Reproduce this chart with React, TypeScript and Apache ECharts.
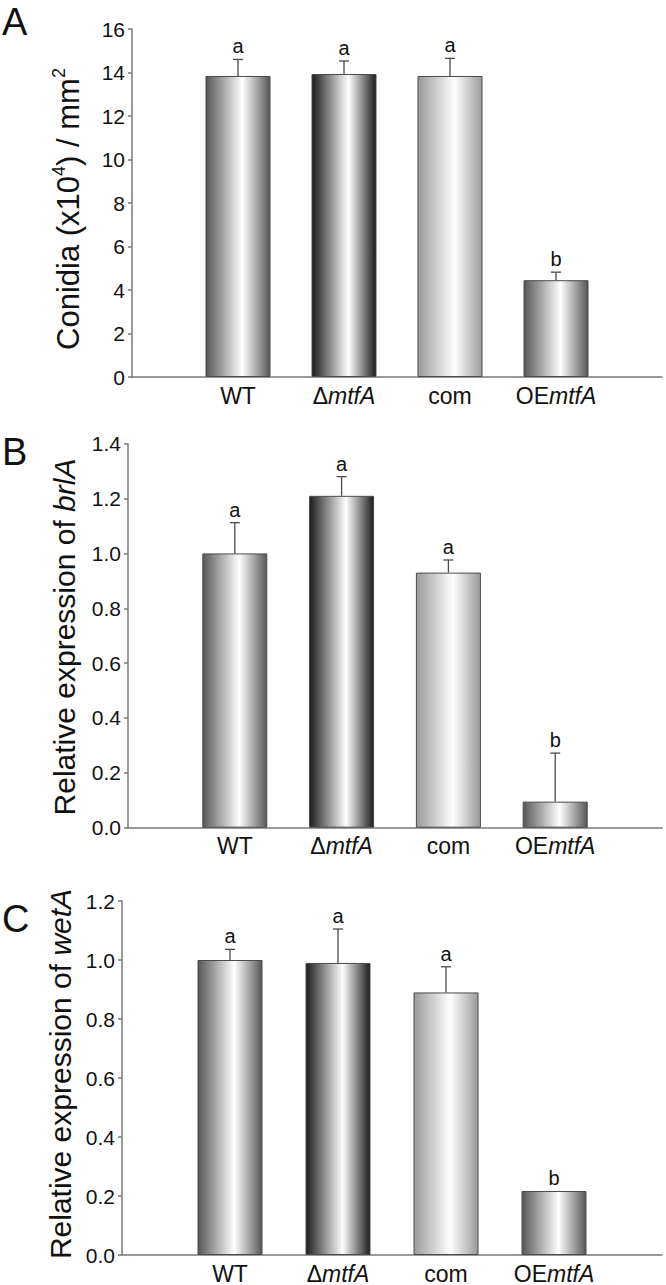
import React, { useEffect, useRef } from "react";
import * as echarts from "echarts";

const FONT = "'Liberation Sans', Arial, Helvetica, sans-serif";

// Data
const categories = ["WT", "ΔmtfA", "com", "OEmtfA"];
const categoryLabels = ["{n|WT}", "{n|Δ}{i|mtfA}", "{n|com}", "{n|OE}{i|mtfA}"];
const xPositions = [1, 2, 3, 4];

const conidiaMean = [13.84, 13.93, 13.84, 4.45];
const conidiaErr = [0.76, 0.6, 0.81, 0.37];
const conidiaLetters = ["a", "a", "a", "b"];

const brlAMean = [1.0, 1.21, 0.93, 0.095];
const brlAErr = [0.112, 0.07, 0.046, 0.177];
const brlALetters = ["a", "a", "a", "b"];

const wetAMean = [1.0, 0.99, 0.89, 0.217];
const wetAErr = [0.036, 0.115, 0.087, 0];
const wetALetters = ["a", "a", "a", "b"];

const yMax = [16, 1.4, 1.2];
const yInterval = [2, 0.2, 0.2];
const yDecimals = [0, 1, 1];

const barEdge = ["#575757", "#1c1c1c", "#9a9a9a", "#575757"];

function makeGrad(edge: string) {
  return new echarts.graphic.LinearGradient(0, 0, 1, 0, [
    { offset: 0, color: edge },
    { offset: 0.57, color: "#ffffff" },
    { offset: 1, color: edge },
  ]);
}

const grids = [
  { left: 132, right: 4, top: 29, bottom: 908 },
  { left: 128, right: 4, top: 443.7, bottom: 457.3 },
  { left: 122, right: 4, top: 901, bottom: 29 },
];

const panels = [
  { mean: conidiaMean, err: conidiaErr, letters: conidiaLetters },
  { mean: brlAMean, err: brlAErr, letters: brlALetters },
  { mean: wetAMean, err: wetAErr, letters: wetALetters },
];

export default function App() {
  const ref = useRef<HTMLDivElement>(null);
  useEffect(() => {
    if (!ref.current) return;
    const chart = echarts.init(ref.current, null, { renderer: "svg" });
    const axisColor = "#7a7a7a";

    const xAxis = grids.map((_, i) => ({
      type: "value",
      gridIndex: i,
      min: 0,
      max: 5,
      interval: 1,
      axisLine: { show: true, onZero: false, lineStyle: { color: axisColor, width: 1.5 } },
      axisTick: { show: false },
      splitLine: { show: false },
      axisLabel: {
        margin: 7,
        formatter: (v: number) => (v >= 1 && v <= 4 ? categoryLabels[v - 1] : ""),
        rich: {
          n: { fontSize: 23, fontFamily: FONT, color: "#111" },
          i: { fontSize: 23, fontFamily: FONT, color: "#111", fontStyle: "italic" },
        },
      },
    }));

    const yAxis = grids.map((_, i) => ({
      type: "value",
      gridIndex: i,
      min: 0,
      max: yMax[i],
      interval: yInterval[i],
      axisLine: { show: true, lineStyle: { color: axisColor, width: 1.5 } },
      axisTick: { show: true, inside: false, length: 4, lineStyle: { color: axisColor, width: 1.5 } },
      splitLine: { show: false },
      axisLabel: {
        margin: 7,
        fontSize: 21,
        fontFamily: FONT,
        color: "#111",
        formatter: (v: number) => v.toFixed(yDecimals[i]),
      },
    }));

    const series: any[] = [];
    panels.forEach((p, i) => {
      series.push({
        type: "bar",
        xAxisIndex: i,
        yAxisIndex: i,
        barWidth: 65,
        silent: true,
        data: xPositions.map((x, j) => ({
          name: categories[j],
          value: [x, p.mean[j]],
          itemStyle: { color: makeGrad(barEdge[j]), borderColor: "#4a4a4a", borderWidth: 1 },
        })),
      });
      series.push({
        type: "custom",
        xAxisIndex: i,
        yAxisIndex: i,
        clip: false,
        silent: true,
        z: 5,
        data: xPositions.map((x, j) => [x, p.mean[j], p.mean[j] + p.err[j]]),
        renderItem: (params: any, api: any) => {
          const x = api.value(0);
          const m = api.value(1);
          const t = api.value(2);
          const pb = api.coord([x, m]);
          const pt = api.coord([x, t]);
          const children: any[] = [];
          if (t > m) {
            const ls = { stroke: "#4a4a4a", lineWidth: 1.3 };
            children.push({ type: "line", shape: { x1: pb[0], y1: pb[1], x2: pt[0], y2: pt[1] }, style: ls });
            children.push({ type: "line", shape: { x1: pt[0] - 5, y1: pt[1], x2: pt[0] + 5, y2: pt[1] }, style: ls });
          }
          children.push({
            type: "text",
            x: pt[0],
            y: pt[1] - 3,
            style: {
              text: p.letters[params.dataIndex],
              fontSize: 20,
              fontFamily: FONT,
              fill: "#111",
              align: "center",
              verticalAlign: "bottom",
            },
          });
          return { type: "group", children };
        },
      });
    });

    const mkRich = (size: number) => ({
      m: { fontSize: size, fontFamily: FONT, fill: "#111", lineHeight: size + 5 },
      i: { fontSize: size, fontFamily: FONT, fill: "#111", fontStyle: "italic", lineHeight: size + 5 },
      s: { fontSize: 18, fontFamily: FONT, fill: "#111", verticalAlign: "top", lineHeight: 18 },
    });

    const graphic = [
      { type: "text", left: 2, top: 3, style: { text: "A", fontSize: 38, fontFamily: FONT, fill: "#111" } },
      { type: "text", left: 2, top: 433, style: { text: "B", fontSize: 38, fontFamily: FONT, fill: "#111" } },
      { type: "text", left: 2, top: 900, style: { text: "C", fontSize: 38, fontFamily: FONT, fill: "#111" } },
      {
        type: "text",
        x: 68,
        y: 209,
        rotation: Math.PI / 2,
        style: { text: "{m|Conidia (x10}{s|4}{m|) / mm}{s|2}", rich: mkRich(31), align: "center", verticalAlign: "middle" },
      },
      {
        type: "text",
        x: 64,
        y: 637,
        rotation: Math.PI / 2,
        style: { text: "{m|Relative expression of }{i|brlA}", rich: mkRich(30), align: "center", verticalAlign: "middle" },
      },
      {
        type: "text",
        x: 60,
        y: 1074,
        rotation: Math.PI / 2,
        style: { text: "{m|Relative expression of }{i|wetA}", rich: mkRich(30), align: "center", verticalAlign: "middle" },
      },
    ];

    chart.setOption({
      animation: false,
      backgroundColor: "#ffffff",
      grid: grids,
      xAxis,
      yAxis,
      series,
      graphic,
    });
    return () => chart.dispose();
  }, []);
  return <div ref={ref} style={{ position: "absolute", left: 0, top: 0, width: 666, height: 1285 }} />;
}
